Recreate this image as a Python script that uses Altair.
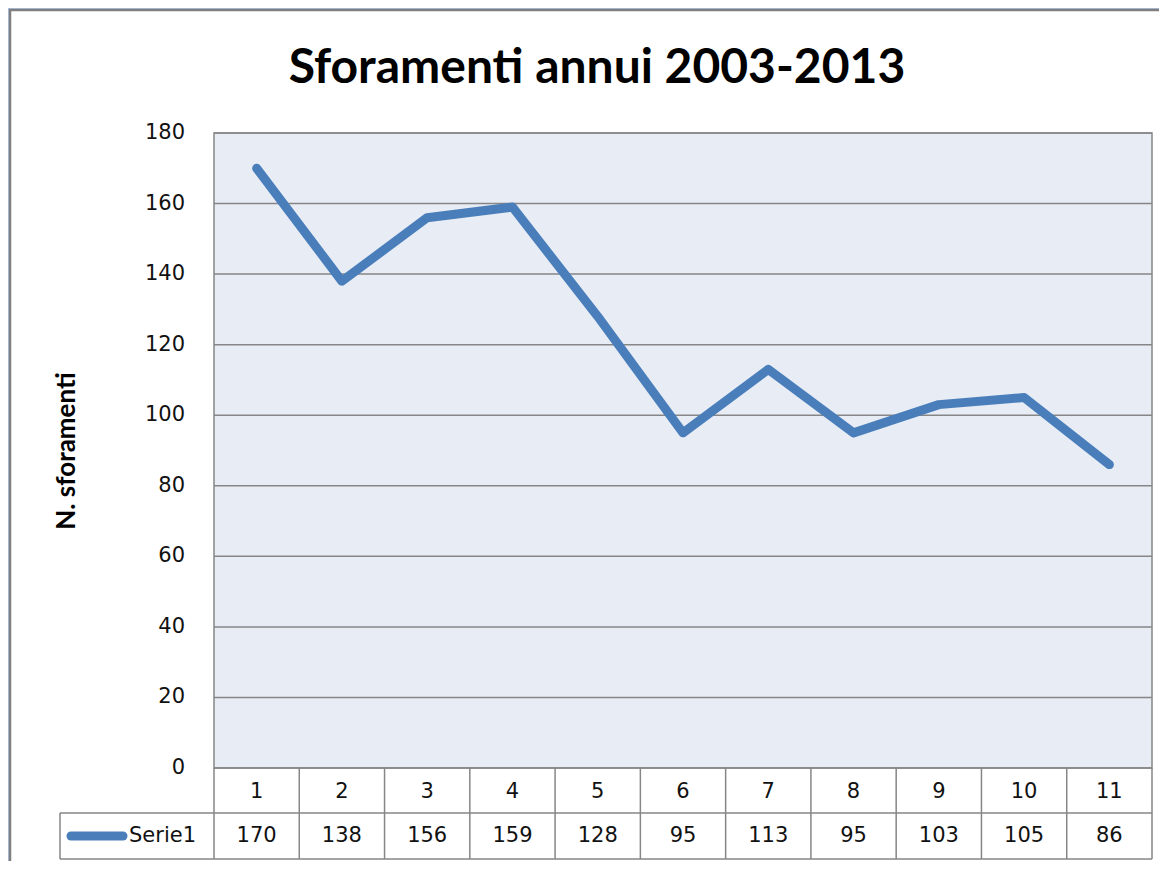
import altair as alt
import pandas as pd

# ---- data ----
categories = [1, 2, 3, 4, 5, 6, 7, 8, 9, 10, 11]
values = [170, 138, 156, 159, 128, 95, 113, 95, 103, 105, 86]
y_ticks = [0, 20, 40, 60, 80, 100, 120, 140, 160, 180]
series_name = "Serie1"
title_text = "Sforamenti annui 2003-2013"
y_title = "N. sforamenti"

df = pd.DataFrame({"cat": categories, "val": values})
ticks_df = pd.DataFrame({"t": y_ticks})
bounds_df = pd.DataFrame({"b": [c - 0.5 for c in categories] + [categories[-1] + 0.5]})
frame_df = pd.DataFrame({"x0": [categories[0] - 0.5], "x1": [categories[-1] + 0.5],
                         "y0": [y_ticks[0]], "y1": [y_ticks[-1]]})
one = pd.DataFrame({"a": [0]})

W, H = 938, 635
LINE_C = "#4A7EBB"
GRID_C = "#868686"
FONT = "DejaVu Sans"
BOLD = "Lato"

xs = alt.Scale(domain=[categories[0] - 0.5, categories[-1] + 0.5], range=[0, W], nice=False, zero=False)
ys = alt.Scale(domain=[y_ticks[0], y_ticks[-1]], range=[H, 0], nice=False)

# outer chart frame
outer = alt.Chart(one).mark_rect(fill="white", stroke="#7F7F7F", strokeWidth=2.5).encode(
    x=alt.value(-204), x2=alt.value(W + 60), y=alt.value(-123), y2=alt.value(H + 140))

plot_bg = alt.Chart(frame_df).mark_rect(fill="#E7ECF5").encode(
    x=alt.X("x0:Q", scale=xs, axis=None), x2="x1:Q",
    y=alt.Y("y0:Q", scale=ys, axis=None), y2="y1:Q")

grid = alt.Chart(ticks_df).mark_rule(color=GRID_C, strokeWidth=1.5).encode(
    y=alt.Y("t:Q", scale=ys, axis=None), x=alt.value(0), x2=alt.value(W))

plot_border = alt.Chart(frame_df).mark_rect(fill=None, stroke=GRID_C, strokeWidth=1.5).encode(
    x=alt.X("x0:Q", scale=xs, axis=None), x2="x1:Q",
    y=alt.Y("y0:Q", scale=ys, axis=None), y2="y1:Q")

ylabels = alt.Chart(ticks_df).mark_text(align="right", baseline="middle", font=FONT,
                                        fontSize=21, color="#111").encode(
    y=alt.Y("t:Q", scale=ys, axis=None), x=alt.value(-29), text="t:Q")

# data table grid
ROW1, ROW2 = H + 45, H + 91
LEFT = -154
vlines = alt.Chart(bounds_df).mark_rule(color=GRID_C, strokeWidth=1.5).encode(
    x=alt.X("b:Q", scale=xs, axis=None), y=alt.value(H), y2=alt.value(ROW2))
hline1 = alt.Chart(one).mark_rule(color=GRID_C, strokeWidth=1.5).encode(
    x=alt.value(LEFT), x2=alt.value(W), y=alt.value(ROW1))
hline2 = alt.Chart(one).mark_rule(color=GRID_C, strokeWidth=1.5).encode(
    x=alt.value(LEFT), x2=alt.value(W), y=alt.value(ROW2))
vleft = alt.Chart(one).mark_rule(color=GRID_C, strokeWidth=1.5).encode(
    x=alt.value(LEFT), y=alt.value(ROW1), y2=alt.value(ROW2))

cat_text = alt.Chart(df).mark_text(align="center", baseline="middle", font=FONT,
                                   fontSize=21, color="#111").encode(
    x=alt.X("cat:Q", scale=xs, axis=None), y=alt.value(H + 24), text="cat:Q")
val_text = alt.Chart(df).mark_text(align="center", baseline="middle", font=FONT,
                                   fontSize=21, color="#111").encode(
    x=alt.X("cat:Q", scale=xs, axis=None), y=alt.value(H + 68), text="val:Q")

legend_line = alt.Chart(one).mark_rule(color=LINE_C, strokeWidth=9, strokeCap="round").encode(
    x=alt.value(-143), x2=alt.value(-91), y=alt.value(H + 68))
legend_text = alt.Chart(pd.DataFrame({"s": [series_name]})).mark_text(
    align="left", baseline="middle", font=FONT, fontSize=21, color="#111").encode(
    x=alt.value(-85), y=alt.value(H + 68), text="s:N")

line = alt.Chart(df).mark_line(color=LINE_C, strokeWidth=9, strokeCap="round",
                               strokeJoin="round").encode(
    x=alt.X("cat:Q", scale=xs, axis=None), y=alt.Y("val:Q", scale=ys, axis=None))

title = alt.Chart(pd.DataFrame({"s": [title_text]})).mark_text(
    align="center", baseline="alphabetic", font=BOLD, fontWeight="bold", fontSize=48,
    color="black").encode(x=alt.value(383), y=alt.value(-50), text="s:N")

ytitle = alt.Chart(pd.DataFrame({"s": [y_title]})).mark_text(
    align="center", baseline="middle", font=BOLD, fontWeight="bold", fontSize=26,
    angle=270, color="black").encode(x=alt.value(-147), y=alt.value(318), text="s:N")

chart = alt.layer(
    outer, plot_bg, grid, plot_border, ylabels, vlines, hline1, hline2, vleft,
    cat_text, val_text, legend_line, legend_text, line, title, ytitle
).properties(
    width=W, height=H,
    autosize=alt.AutoSizeParams(type="none"),
    padding={"left": 206, "top": 125, "right": 7, "bottom": 93},
    background="#B3C6E7",
).configure_view(stroke=None)

chart.save("out.html", embed_options={"renderer": "svg", "actions": False})
